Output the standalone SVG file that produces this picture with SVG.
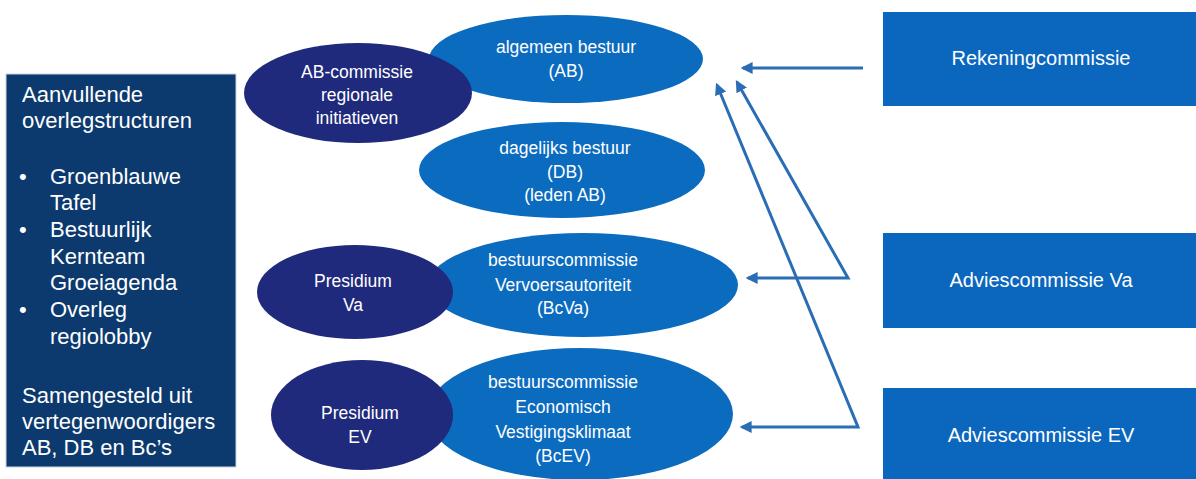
<svg xmlns="http://www.w3.org/2000/svg" width="1196" height="479" viewBox="0 0 1196 479">
<defs>
<style>
text{font-family:"Liberation Sans",Arial,sans-serif;fill:#fff}
.e{font-size:17.5px;text-anchor:middle}
.r{font-size:20px;text-anchor:middle}
.b{font-size:22px}
.light{fill:#0b6bbf}
.dark{fill:#1f2a7c}
.box{fill:#0b66bd}
.conn{fill:none;stroke:#2a6db5;stroke-width:3}
</style>
<marker id="ah" viewBox="0 0 10 10" refX="8" refY="5" markerWidth="4" markerHeight="4" orient="auto-start-reverse">
<path d="M0,0 L10,5 L0,10 z" fill="#2a6db5"/>
</marker>
</defs>
<rect width="1196" height="479" fill="#fff"/>
<g id="overleg">
<rect x="6" y="74" width="230" height="393" fill="#0c3a6e" stroke="#c9d4e2" stroke-width="1"/>
<text class="b" x="22" y="102">Aanvullende</text>
<text class="b" x="22" y="128">overlegstructuren</text>
<text class="b" x="19" y="184">•</text><text class="b" x="50" y="184">Groenblauwe</text>
<text class="b" x="50" y="210">Tafel</text>
<text class="b" x="19" y="237">•</text><text class="b" x="50" y="237">Bestuurlijk</text>
<text class="b" x="50" y="264">Kernteam</text>
<text class="b" x="50" y="290">Groeiagenda</text>
<text class="b" x="19" y="317">•</text><text class="b" x="50" y="317">Overleg</text>
<text class="b" x="50" y="344">regiolobby</text>
<text class="b" x="22" y="403">Samengesteld uit</text>
<text class="b" x="22" y="429">vertegenwoordigers</text>
<text class="b" x="22" y="455">AB, DB en Bc’s</text>
</g>
<g id="ab">
<ellipse class="light" cx="566" cy="59" rx="137" ry="44"/>
<text class="e" x="566" y="53">algemeen bestuur</text>
<text class="e" x="566" y="77">(AB)</text>
</g>
<g id="ab-commissie">
<ellipse class="dark" cx="358" cy="93" rx="114" ry="50"/>
<text class="e" x="357" y="78">AB-commissie</text>
<text class="e" x="357" y="101">regionale</text>
<text class="e" x="357" y="124">initiatieven</text>
</g>
<g id="db">
<ellipse class="light" cx="562" cy="170" rx="143" ry="48"/>
<text class="e" x="565" y="154">dagelijks bestuur</text>
<text class="e" x="565" y="178">(DB)</text>
<text class="e" x="565" y="201">(leden AB)</text>
</g>
<g id="bcva">
<ellipse class="light" cx="583" cy="285" rx="155" ry="52"/>
<text class="e" x="563" y="266">bestuurscommissie</text>
<text class="e" x="563" y="291">Vervoersautoriteit</text>
<text class="e" x="563" y="314">(BcVa)</text>
</g>
<g id="presidium-va">
<ellipse class="dark" cx="355" cy="292" rx="98" ry="47"/>
<text class="e" x="353" y="287">Presidium</text>
<text class="e" x="353" y="311">Va</text>
</g>
<g id="bcev">
<ellipse class="light" cx="580" cy="414" rx="153" ry="66"/>
<text class="e" x="563" y="388">bestuurscommissie</text>
<text class="e" x="563" y="413">Economisch</text>
<text class="e" x="563" y="438">Vestigingsklimaat</text>
<text class="e" x="563" y="462">(BcEV)</text>
</g>
<g id="presidium-ev">
<ellipse class="dark" cx="362" cy="415" rx="91" ry="55"/>
<text class="e" x="360" y="419">Presidium</text>
<text class="e" x="360" y="443">EV</text>
</g>
<g id="rekeningcommissie">
<rect class="box" x="883" y="12" width="313" height="94"/>
<text class="r" x="1041" y="65">Rekeningcommissie</text>
</g>
<g id="adviescommissie-va">
<rect class="box" x="883" y="233" width="313" height="95"/>
<text class="r" x="1041" y="287">Adviescommissie Va</text>
</g>
<g id="adviescommissie-ev">
<rect class="box" x="883" y="388" width="313" height="91"/>
<text class="r" x="1041" y="442">Adviescommissie EV</text>
</g>
<g id="connectors">
<path class="conn" d="M863,68 L743,68" marker-end="url(#ah)"/>
<path class="conn" d="M737,82 L848,278 L748,278" marker-start="url(#ah)" marker-end="url(#ah)"/>
<path class="conn" d="M717,85 L858,427 L742,427" marker-start="url(#ah)" marker-end="url(#ah)"/>
</g>
</svg>
